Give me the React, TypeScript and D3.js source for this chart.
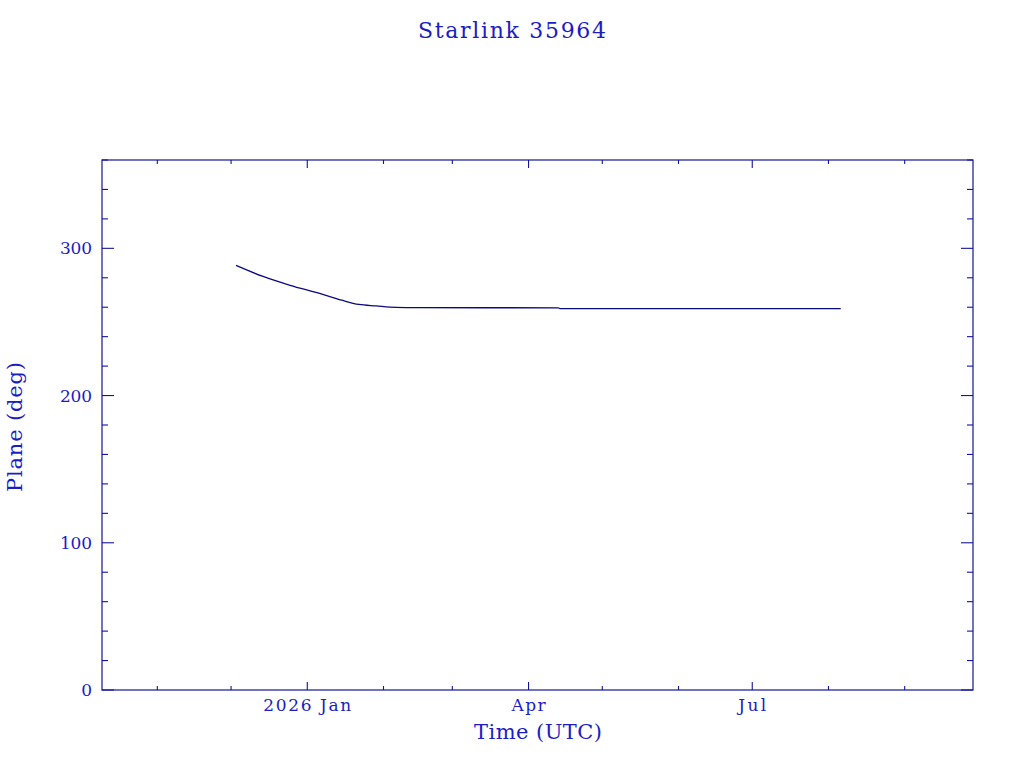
import * as d3 from 'd3'

const title = 'Starlink 35964'
const xLabel = 'Time (UTC)'
const yLabel = 'Plane (deg)'

// plane angle samples
const dates = [
  '2025-12-03', '2025-12-14', '2025-12-25', '2026-01-06', '2026-01-15',
  '2026-01-22', '2026-01-29', '2026-02-06', '2026-02-15', '2026-04-13',
  '2026-04-14', '2026-06-01', '2026-08-06'
]
const plane = [
  288.4, 280.9, 274.9, 269.4, 264.8,
  261.9, 260.9, 259.9, 259.7, 259.6,
  259.0, 259.0, 259.0
]

const xDomain = ['2025-10-09T12:00:00Z', '2026-09-28T19:00:00Z']
const yDomain = [0, 360]
const yMajor = [0, 100, 200, 300]
const yMinor = d3.range(0, 361, 20)
const xMajorDates = ['2026-01-01', '2026-04-01', '2026-07-01']
const xMajorLabels = ['2026 Jan', 'Apr', 'Jul']

const W = 1024
const H = 768
const box = { left: 102, right: 973, top: 160, bottom: 690 }

const axisColor = '#14149a'
const textColor = '#1c1cc4'
const lineColor = '#0a0a80'
const font = '"DejaVu Serif", serif'

// label widths as measured in the original
const yLabelWidth = (v: number) => (v === 0 ? 10 : 32)
const xLabelWidth = [88, 34, 28]

export default function App() {
  const x = d3.scaleUtc()
    .domain(xDomain.map(d => new Date(d)))
    .range([box.left, box.right])
  const y = d3.scaleLinear()
    .domain(yDomain)
    .range([box.bottom, box.top])

  const monthTicks = d3.utcMonth.range(x.domain()[0], x.domain()[1])
  const majorSet = new Set(xMajorDates.map(d => new Date(d).getTime()))

  const pts = dates.map((d, i) => [x(new Date(d)), y(plane[i])] as [number, number])
  const path = d3.line().curve(d3.curveMonotoneX)(pts) || ''

  return (
    <svg width={W} height={H} style={{ position: 'absolute', left: 0, top: 0, background: '#fff' }}>
      <text x={512} y={38} textAnchor="middle" fill={textColor}
        fontFamily={font} fontSize={22} textLength={188}>{title}</text>

      <rect x={box.left} y={box.top} width={box.right - box.left} height={box.bottom - box.top}
        fill="none" stroke={axisColor} strokeWidth={1.2} />

      {yMinor.map(v => {
        const len = yMajor.includes(v) ? 12 : 6
        return (
          <g key={'y' + v}>
            <line x1={box.left} x2={box.left + len} y1={y(v)} y2={y(v)} stroke={axisColor} strokeWidth={1.1} />
            <line x1={box.right} x2={box.right - len} y1={y(v)} y2={y(v)} stroke={axisColor} strokeWidth={1.1} />
          </g>
        )
      })}
      {yMajor.map(v => (
        <text key={'yl' + v} x={92} y={y(v) + 6} textAnchor="end" fill={textColor}
          fontFamily={font} fontSize={17} textLength={yLabelWidth(v)}>{v}</text>
      ))}

      {monthTicks.map(d => {
        const len = majorSet.has(d.getTime()) ? 8 : 4
        const px = x(d)
        return (
          <g key={'x' + d.getTime()}>
            <line x1={px} x2={px} y1={box.bottom} y2={box.bottom - len} stroke={axisColor} strokeWidth={1.1} />
            <line x1={px} x2={px} y1={box.top} y2={box.top + len} stroke={axisColor} strokeWidth={1.1} />
          </g>
        )
      })}
      {xMajorDates.map((d, i) => (
        <text key={'xl' + d} x={x(new Date(d))} y={711} textAnchor="middle" fill={textColor}
          fontFamily={font} fontSize={17} textLength={xLabelWidth[i]}>{xMajorLabels[i]}</text>
      ))}

      <text x={538} y={739} textAnchor="middle" fill={textColor}
        fontFamily={font} fontSize={21} textLength={128}>{xLabel}</text>
      <text transform={`translate(22,427) rotate(-90)`} textAnchor="middle" fill={textColor}
        fontFamily={font} fontSize={21} textLength={130}>{yLabel}</text>

      <path d={path} fill="none" stroke={lineColor} strokeWidth={1.3} />
    </svg>
  )
}
